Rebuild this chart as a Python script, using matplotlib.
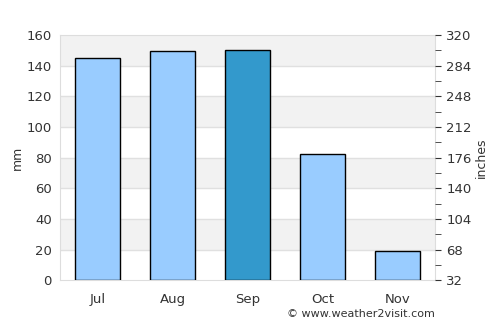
import numpy as np
import matplotlib
matplotlib.use("Agg")
import matplotlib.pyplot as plt
from matplotlib.ticker import FixedLocator

months = ["Jul", "Aug", "Sep", "Oct", "Nov"]
rain_mm = [145, 149.5, 150, 82.5, 19]
highlight = "Sep"

left_ticks = [0, 20, 40, 60, 80, 100, 120, 140, 160]
right_ticks = [32, 68, 104, 140, 176, 212, 248, 284, 320]

txt = "#333333"
fig = plt.figure(figsize=(5, 3.25), dpi=100)
ax = fig.add_axes([0.12, 0.138, 0.75, 0.754])

# alternating bands
for i, lo in enumerate(left_ticks[:-1]):
    if i % 2 == 1:
        ax.axhspan(lo, lo + 20, color="#f2f2f2", zorder=0, lw=0)
for t in left_ticks[1:-1]:
    ax.axhline(t, color="#e0e0e0", lw=1, zorder=1)

x = np.arange(len(months))
colors = ["#3399cc" if m == highlight else "#99ccff" for m in months]
ax.bar(x, rain_mm, width=0.6, color=colors, edgecolor="black", lw=1, zorder=3)

ax.set_xlim(-0.5, len(months) - 0.5)
ax.set_ylim(0, 160)
ax.set_yticks(left_ticks)
ax.set_xticks(x)
ax.set_xticklabels(months)
ax.set_ylabel("mm", color=txt, fontsize=9, labelpad=2)
ax.tick_params(axis="y", length=0, colors=txt, labelsize=9.5, pad=6)
ax.tick_params(axis="x", length=0, colors=txt, labelsize=9.5, pad=9)
for s in ax.spines.values():
    s.set_color("#dddddd")

ax2 = ax.twinx()
ax2.set_ylim(right_ticks[0], right_ticks[-1])
ax2.set_yticks(right_ticks)
mids = [(a + b) / 2 for a, b in zip(right_ticks[:-1], right_ticks[1:])]
ax2.yaxis.set_minor_locator(FixedLocator(mids))
ax2.tick_params(axis="y", which="major", length=4, colors=txt, labelsize=9.5, pad=4)
ax2.tick_params(axis="y", which="minor", length=4, color=txt)
ax2.set_ylabel("inches", color=txt, fontsize=9, labelpad=2)
for s in ax2.spines.values():
    s.set_visible(False)

fig.text(0.87, 0.018, "© www.weather2visit.com", ha="right", va="bottom",
         fontsize=8, color=txt)

fig.savefig("out.png", dpi=100)
